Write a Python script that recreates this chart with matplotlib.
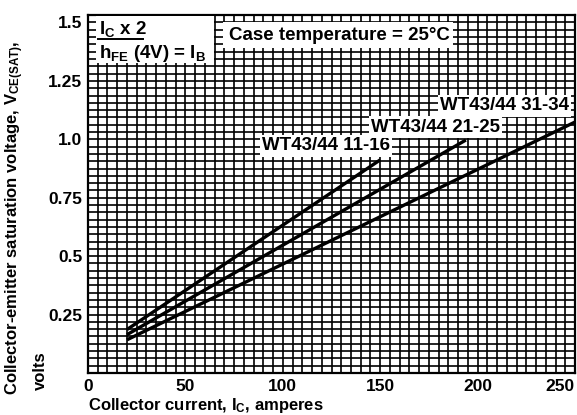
import matplotlib
matplotlib.use("Agg")
import matplotlib.pyplot as plt
from matplotlib.patches import Rectangle
from matplotlib.lines import Line2D
import numpy as np

plt.rcParams['font.family'] = ['Liberation Sans', 'DejaVu Sans']
plt.rcParams['font.weight'] = 'bold'
plt.rcParams['mathtext.fontset'] = 'custom'
plt.rcParams['mathtext.rm'] = 'Liberation Sans:bold'
plt.rcParams['mathtext.it'] = 'Liberation Sans:bold'
plt.rcParams['mathtext.bf'] = 'Liberation Sans:bold'

# ---- data ----
current_11_16 = [20, 150]
vsat_11_16 = [0.186, 0.912]
current_21_25 = [20, 194]
vsat_21_25 = [0.164, 0.997]
current_31_34 = [20, 250]
vsat_31_34 = [0.142, 1.074]
series_labels = ["WT43/44 11-16", "WT43/44 21-25", "WT43/44 31-34"]
x_ticks = [0, 50, 100, 150, 200, 250]
x_tick_labels = ["0", "50", "100", "150", "200", "250"]
y_ticks = [0.25, 0.5, 0.75, 1.0, 1.25, 1.5]
y_tick_labels = ["0.25", "0.5", "0.75", "1.0", "1.25", "1.5"]

fig = plt.figure(figsize=(5.77, 4.15), dpi=100)
ax = fig.add_axes([88/577, 1 - 373/415, (575-88)/577, (373-15)/415])
ax.set_xlim(0, 250)
ax.set_ylim(0, 1.532)

ax.set_xticks(x_ticks)
ax.set_xticklabels(x_tick_labels)
ax.set_yticks(y_ticks)
ax.set_yticklabels(y_tick_labels)
ax.set_xticks(np.arange(0, 251, 5), minor=True)
ax.set_yticks(np.arange(0, 1.54, 0.03125), minor=True)
ax.tick_params(which='both', length=0, labelsize=12.5, pad=4)
ax.grid(which='both', color='black', linewidth=1.2)
ax.set_axisbelow(True)
for s in ax.spines.values():
    s.set_linewidth(1.6)
    s.set_color('black')
lbls = ax.get_xticklabels()
lbls[-1].set_horizontalalignment('right')
lbls[-1].set_x(252)
for l in ax.get_xticklabels() + ax.get_yticklabels():
    l.set_fontweight('bold')

for xs, ys in [(current_11_16, vsat_11_16), (current_21_25, vsat_21_25), (current_31_34, vsat_31_34)]:
    ax.plot(xs, ys, color='black', linewidth=2.4, zorder=3, solid_capstyle='butt')

# white boxes for annotations
def wbox(x0, y0, x1, y1):
    ax.add_patch(Rectangle((x0, y0), x1 - x0, y1 - y0, transform=ax.transAxes,
                           facecolor='white', edgecolor='none', zorder=4, clip_on=False))

def px2ax(px, py):
    return ((px - 88) / 487, (373 - py) / 358)

FS = 13.5
# header fraction box
x0, y0 = px2ax(96, 63); x1, y1 = px2ax(214, 16)
wbox(x0, y0, x1, y1)
tx, ty = px2ax(99, 29)
ax.text(tx, ty, r"I$_\mathrm{C}$ x 2", transform=ax.transAxes, fontsize=FS,
        fontweight='bold', ha='left', va='center', zorder=5)
lx0, ly = px2ax(98, 39); lx1, _ = px2ax(143, 39)
ax.add_line(Line2D([lx0, lx1], [ly, ly], transform=ax.transAxes, color='black', lw=1.4, zorder=5))
tx, ty = px2ax(99, 53)
ax.text(tx, ty, r"h$_\mathrm{FE}$ (4V) = I$_\mathrm{B}$", transform=ax.transAxes, fontsize=FS,
        fontweight='bold', ha='left', va='center', zorder=5)

# case temperature
x0, y0 = px2ax(223, 48); x1, y1 = px2ax(453, 22)
wbox(x0, y0, x1, y1)
tx, ty = px2ax(229, 35)
ax.text(tx, ty, "Case temperature = 25°C", transform=ax.transAxes, fontsize=FS,
        fontweight='bold', ha='left', va='center', zorder=5)

# series labels
label_pos = [(262, 146), (371, 127), (440, 106)]
for lab, (px, py) in zip(series_labels, label_pos):
    tx, ty = px2ax(px, py)
    ax.text(tx, ty, lab, transform=ax.transAxes, fontsize=FS, fontweight='bold',
            ha='left', va='center', zorder=5,
            bbox=dict(facecolor='white', edgecolor='none', pad=1.5))

fig.text(15/577, 1 - 395/415, r"Collector-emitter saturation voltage, V$_\mathrm{CE(SAT)}$,",
         rotation=90, ha='center', va='bottom', fontsize=12, fontweight='bold')
fig.text(40/577, 1 - 390/415, "volts", rotation=90, ha='center', va='bottom',
         fontsize=12, fontweight='bold')
fig.text(88/577, 1 - 405/415, r"Collector current, I$_\mathrm{C}$, amperes", ha='left',
         va='center', fontsize=12, fontweight='bold')

fig.savefig("out.png", dpi=100, facecolor='white')
